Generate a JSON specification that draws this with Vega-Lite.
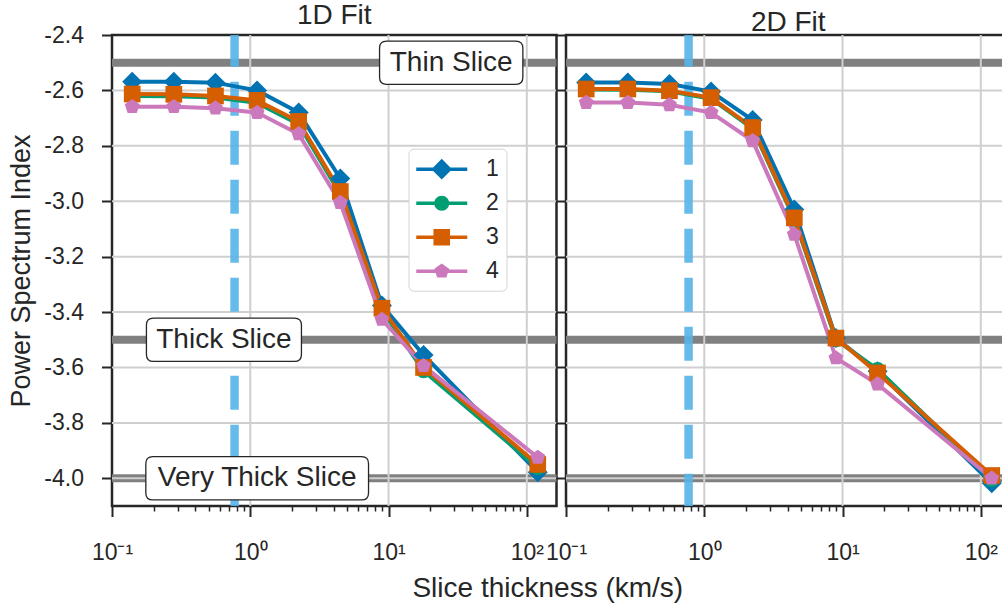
{
  "$schema": "https://vega.github.io/schema/vega-lite/v6.json",
  "padding": {"left": 6, "top": 0, "right": 0, "bottom": 0},
  "bounds": "flush",
  "spacing": 9,
  "config": {
    "font": "Liberation Sans",
    "view": {"stroke": "#262626", "strokeWidth": 2.5},
    "axis": {"grid": false, "domain": false, "labelFont": "Liberation Sans", "titleFont": "Liberation Sans"},
    "title": {"fontSize": 28, "fontWeight": "normal", "color": "#262626", "font": "Liberation Sans", "anchor": "middle", "offset": -6}
  },
  "datasets": {
    "pts": [
      {"fit": "1D Fit", "s": "1", "x": 0.14, "y": -2.569},
      {"fit": "1D Fit", "s": "1", "x": 0.28, "y": -2.569},
      {"fit": "1D Fit", "s": "1", "x": 0.56, "y": -2.572},
      {"fit": "1D Fit", "s": "1", "x": 1.12, "y": -2.600},
      {"fit": "1D Fit", "s": "1", "x": 2.24, "y": -2.680},
      {"fit": "1D Fit", "s": "1", "x": 4.48, "y": -2.918},
      {"fit": "1D Fit", "s": "1", "x": 8.96, "y": -3.376},
      {"fit": "1D Fit", "s": "1", "x": 17.92, "y": -3.555},
      {"fit": "1D Fit", "s": "1", "x": 120, "y": -3.978},
      {"fit": "1D Fit", "s": "2", "x": 0.14, "y": -2.620},
      {"fit": "1D Fit", "s": "2", "x": 0.28, "y": -2.621},
      {"fit": "1D Fit", "s": "2", "x": 0.56, "y": -2.626},
      {"fit": "1D Fit", "s": "2", "x": 1.12, "y": -2.645},
      {"fit": "1D Fit", "s": "2", "x": 2.24, "y": -2.722},
      {"fit": "1D Fit", "s": "2", "x": 4.48, "y": -2.975},
      {"fit": "1D Fit", "s": "2", "x": 8.96, "y": -3.392},
      {"fit": "1D Fit", "s": "2", "x": 17.92, "y": -3.612},
      {"fit": "1D Fit", "s": "2", "x": 120, "y": -3.962},
      {"fit": "1D Fit", "s": "3", "x": 0.14, "y": -2.613},
      {"fit": "1D Fit", "s": "3", "x": 0.28, "y": -2.614},
      {"fit": "1D Fit", "s": "3", "x": 0.56, "y": -2.620},
      {"fit": "1D Fit", "s": "3", "x": 1.12, "y": -2.636},
      {"fit": "1D Fit", "s": "3", "x": 2.24, "y": -2.712},
      {"fit": "1D Fit", "s": "3", "x": 4.48, "y": -2.965},
      {"fit": "1D Fit", "s": "3", "x": 8.96, "y": -3.386},
      {"fit": "1D Fit", "s": "3", "x": 17.92, "y": -3.600},
      {"fit": "1D Fit", "s": "3", "x": 120, "y": -3.950},
      {"fit": "1D Fit", "s": "4", "x": 0.14, "y": -2.659},
      {"fit": "1D Fit", "s": "4", "x": 0.28, "y": -2.659},
      {"fit": "1D Fit", "s": "4", "x": 0.56, "y": -2.664},
      {"fit": "1D Fit", "s": "4", "x": 1.12, "y": -2.680},
      {"fit": "1D Fit", "s": "4", "x": 2.24, "y": -2.757},
      {"fit": "1D Fit", "s": "4", "x": 4.48, "y": -3.005},
      {"fit": "1D Fit", "s": "4", "x": 8.96, "y": -3.427},
      {"fit": "1D Fit", "s": "4", "x": 17.92, "y": -3.594},
      {"fit": "1D Fit", "s": "4", "x": 120, "y": -3.925},
      {"fit": "2D Fit", "s": "1", "x": 0.14, "y": -2.571},
      {"fit": "2D Fit", "s": "1", "x": 0.28, "y": -2.571},
      {"fit": "2D Fit", "s": "1", "x": 0.56, "y": -2.577},
      {"fit": "2D Fit", "s": "1", "x": 1.12, "y": -2.604},
      {"fit": "2D Fit", "s": "1", "x": 2.24, "y": -2.707},
      {"fit": "2D Fit", "s": "1", "x": 4.48, "y": -3.030},
      {"fit": "2D Fit", "s": "1", "x": 8.96, "y": -3.494},
      {"fit": "2D Fit", "s": "1", "x": 17.92, "y": -3.614},
      {"fit": "2D Fit", "s": "1", "x": 120, "y": -4.018},
      {"fit": "2D Fit", "s": "2", "x": 0.14, "y": -2.597},
      {"fit": "2D Fit", "s": "2", "x": 0.28, "y": -2.598},
      {"fit": "2D Fit", "s": "2", "x": 0.56, "y": -2.603},
      {"fit": "2D Fit", "s": "2", "x": 1.12, "y": -2.630},
      {"fit": "2D Fit", "s": "2", "x": 2.24, "y": -2.738},
      {"fit": "2D Fit", "s": "2", "x": 4.48, "y": -3.065},
      {"fit": "2D Fit", "s": "2", "x": 8.96, "y": -3.500},
      {"fit": "2D Fit", "s": "2", "x": 17.92, "y": -3.607},
      {"fit": "2D Fit", "s": "2", "x": 120, "y": -4.005},
      {"fit": "2D Fit", "s": "3", "x": 0.14, "y": -2.595},
      {"fit": "2D Fit", "s": "3", "x": 0.28, "y": -2.595},
      {"fit": "2D Fit", "s": "3", "x": 0.56, "y": -2.601},
      {"fit": "2D Fit", "s": "3", "x": 1.12, "y": -2.626},
      {"fit": "2D Fit", "s": "3", "x": 2.24, "y": -2.734},
      {"fit": "2D Fit", "s": "3", "x": 4.48, "y": -3.060},
      {"fit": "2D Fit", "s": "3", "x": 8.96, "y": -3.494},
      {"fit": "2D Fit", "s": "3", "x": 17.92, "y": -3.620},
      {"fit": "2D Fit", "s": "3", "x": 120, "y": -3.990},
      {"fit": "2D Fit", "s": "4", "x": 0.14, "y": -2.644},
      {"fit": "2D Fit", "s": "4", "x": 0.28, "y": -2.644},
      {"fit": "2D Fit", "s": "4", "x": 0.56, "y": -2.652},
      {"fit": "2D Fit", "s": "4", "x": 1.12, "y": -2.680},
      {"fit": "2D Fit", "s": "4", "x": 2.24, "y": -2.782},
      {"fit": "2D Fit", "s": "4", "x": 4.48, "y": -3.120},
      {"fit": "2D Fit", "s": "4", "x": 8.96, "y": -3.566},
      {"fit": "2D Fit", "s": "4", "x": 17.92, "y": -3.660},
      {"fit": "2D Fit", "s": "4", "x": 120, "y": -4.000}
    ],
    "bands": [{"y": -2.5}, {"y": -3.5}, {"y": -4.0}],
    "gy": [{"y": -2.6}, {"y": -2.8}, {"y": -3.0}, {"y": -3.2}, {"y": -3.4}, {"y": -3.6}, {"y": -3.8}, {"y": -4.0}],
    "gx": [{"x": 1}, {"x": 10}, {"x": 100}],
    "vline": [{"x": 0.77}],
    "notes": [
      {"label": "Thin Slice", "x": 28.4, "y": -2.5},
      {"label": "Thick Slice", "x": 0.645, "y": -3.5},
      {"label": "Very Thick Slice", "x": 1.122, "y": -4.0}
    ]
  },
  "hconcat": [
    {
      "title": "1D Fit",
      "width": 444.5,
      "height": 471,
      "resolve": {"scale": {"shape": "independent", "color": "independent"}},
      "layer": [
        {
          "data": {"name": "bands"},
          "mark": {"type": "rule", "color": "#808080", "strokeWidth": 8},
          "encoding": {"y": {"field": "y", "type": "quantitative", "scale": {"domain": [-4.1, -2.4], "nice": false, "zero": false}}}
        },
        {
          "data": {"name": "gy"},
          "mark": {"type": "rule", "color": "#cfcfcf", "strokeWidth": 2},
          "encoding": {"y": {"field": "y", "type": "quantitative"}}
        },
        {
          "data": {"name": "gx"},
          "mark": {"type": "rule", "color": "#cfcfcf", "strokeWidth": 2},
          "encoding": {"x": {"field": "x", "type": "quantitative", "scale": {"type": "log", "domain": [0.1, 164], "nice": false}}}
        },
        {
          "data": {"name": "vline"},
          "mark": {"type": "rule", "color": "#56B4E9", "opacity": 0.9, "strokeWidth": 8.5, "strokeDash": [34, 15], "strokeDashOffset": 2.3},
          "encoding": {"x": {"field": "x", "type": "quantitative", "scale": {"type": "log"}}}
        },
        {
          "data": {"name": "pts"},
          "transform": [{"filter": "datum.fit == '1D Fit'"}],
          "mark": {"type": "line", "strokeWidth": 4},
          "encoding": {
            "x": {"field": "x", "type": "quantitative", "scale": {"type": "log"},
              "axis": {
                "values": [0.1, 0.2, 0.3, 0.4, 0.5, 0.6, 0.7, 0.8, 0.9, 1, 2, 3, 4, 5, 6, 7, 8, 9, 10, 20, 30, 40, 50, 60, 70, 80, 90, 100],
                "labelExpr": "datum.value == 0.1 ? '10⁻¹' : datum.value == 1 ? '10⁰' : datum.value == 10 ? '10¹' : datum.value == 100 ? '10²' : ''",
                "tickSize": {"condition": {"test": "indexof([0.1, 1, 10, 100], datum.value) >= 0", "value": 10.5}, "value": 5},
                "tickWidth": {"condition": {"test": "indexof([0.1, 1, 10, 100], datum.value) >= 0", "value": 2}, "value": 1.5},
                "tickColor": "#262626",
                "labelFontSize": 23, "labelColor": "#262626", "labelPadding": 25,
                "labelFlush": false, "labelOverlap": false, "labelBound": false,
                "title": "Slice thickness (km/s)", "titleFontSize": 28, "titleFontWeight": "normal", "titleColor": "#262626",
                "titleX": 435.3, "titlePadding": 10
              }},
            "y": {"field": "y", "type": "quantitative",
              "axis": {
                "values": [-2.4, -2.6, -2.8, -3.0, -3.2, -3.4, -3.6, -3.8, -4.0],
                "labelExpr": "'-' + format(-datum.value, '.1f')",
                "tickSize": 10.5, "tickWidth": 2, "tickColor": "#262626",
                "labelFontSize": 23, "labelColor": "#262626", "labelPadding": 18,
                "labelFlush": false, "labelOverlap": false, "labelBound": false,
                "title": "Power Spectrum Index", "titleFontSize": 27, "titleFontWeight": "normal", "titleColor": "#262626", "titlePadding": 8
              }},
            "color": {"field": "s", "type": "nominal", "scale": {"domain": ["1", "2", "3", "4"], "range": ["#0173B2", "#029E73", "#D55E00", "#CC78BC"]}, "legend": null}
          }
        },
        {
          "data": {"name": "pts"},
          "transform": [{"filter": "datum.fit == '1D Fit'"}],
          "mark": {"type": "point", "filled": true, "opacity": 1, "size": 400},
          "encoding": {
            "x": {"field": "x", "type": "quantitative", "scale": {"type": "log"}},
            "y": {"field": "y", "type": "quantitative"},
            "color": {"field": "s", "type": "nominal", "scale": {"domain": ["1", "2", "3", "4"], "range": ["#0173B2", "#029E73", "#D55E00", "#CC78BC"]}, "legend": null},
            "shape": {"field": "s", "type": "nominal", "legend": null, "scale": {"domain": ["1", "2", "3", "4"], "range": [
              "M0,-1L1,0L0,1L-1,0Z",
              "M0.75,0A0.75,0.75 0 1,1 -0.75,0A0.75,0.75 0 1,1 0.75,0Z",
              "M-0.835,-0.835L0.835,-0.835L0.835,0.835L-0.835,0.835Z",
              "M0,-0.78L0.742,-0.241L0.458,0.631L-0.458,0.631L-0.742,-0.241Z"
            ]}}
          }
        },
        {
          "data": {"name": "notes"},
          "mark": {"type": "point", "filled": true, "fill": "white", "stroke": "#262626", "strokeWidth": 1.3, "opacity": 1, "size": 49729},
          "encoding": {
            "x": {"field": "x", "type": "quantitative", "scale": {"type": "log"}},
            "y": {"field": "y", "type": "quantitative"},
            "shape": {"field": "label", "type": "nominal", "legend": null, "scale": {"domain": ["Thin Slice", "Thick Slice", "Very Thick Slice"], "range": [
              "M-0.5798,-0.1942L0.5798,-0.1942Q0.6426,-0.1942 0.6426,-0.1314L0.6426,0.1314Q0.6426,0.1942 0.5798,0.1942L-0.5798,0.1942Q-0.6426,0.1942 -0.6426,0.1314L-0.6426,-0.1314Q-0.6426,-0.1942 -0.5798,-0.1942Z",
              "M-0.6323,-0.1942L0.6323,-0.1942Q0.6951,-0.1942 0.6951,-0.1314L0.6951,0.1314Q0.6951,0.1942 0.6323,0.1942L-0.6323,0.1942Q-0.6951,0.1942 -0.6951,0.1314L-0.6951,-0.1314Q-0.6951,-0.1942 -0.6323,-0.1942Z",
              "M-0.9359,-0.1942L0.9359,-0.1942Q0.9987,-0.1942 0.9987,-0.1314L0.9987,0.1314Q0.9987,0.1942 0.9359,0.1942L-0.9359,0.1942Q-0.9987,0.1942 -0.9987,0.1314L-0.9987,-0.1314Q-0.9987,-0.1942 -0.9359,-0.1942Z"
            ]}}
          }
        },
        {
          "data": {"name": "notes"},
          "mark": {"type": "text", "fontSize": 28, "color": "#262626", "align": "center", "baseline": "middle", "font": "Liberation Sans"},
          "encoding": {
            "x": {"field": "x", "type": "quantitative", "scale": {"type": "log"}},
            "y": {"field": "y", "type": "quantitative"},
            "text": {"field": "label"}
          }
        },
        {
          "data": {"name": "pts"},
          "transform": [{"filter": "datum.fit == '1D Fit'"}],
          "mark": {"type": "point", "filled": true, "opacity": 0, "size": 650},
          "encoding": {
            "x": {"field": "x", "type": "quantitative", "scale": {"type": "log"}},
            "y": {"field": "y", "type": "quantitative"},
            "color": {"field": "s", "type": "nominal", "scale": {"domain": ["1", "2", "3", "4"], "range": ["#0173B2", "#029E73", "#D55E00", "#CC78BC"]},
              "legend": {"orient": "none", "legendX": 296.5, "legendY": 113.7, "title": null, "symbolSize": 650, "symbolStrokeWidth": 0, "symbolOpacity": 1, "labelFontSize": 23, "labelColor": "#262626", "labelFont": "Liberation Sans", "labelOffset": 44, "rowPadding": 9, "padding": 7.5, "fillColor": "white", "strokeColor": "#d4d4d4", "cornerRadius": 5}},
            "shape": {"field": "s", "type": "nominal", "scale": {"domain": ["1", "2", "3", "4"], "range": [
              "M-1,-0.137L3,-0.137L3,0.137L-1,0.137ZM1,-0.81L1.81,0L1,0.81L0.19,0Z",
              "M-1,-0.137L3,-0.137L3,0.137L-1,0.137ZM1.588,0A0.588,0.588 0 1,1 0.412,0A0.588,0.588 0 1,1 1.588,0Z",
              "M-1,-0.137L3,-0.137L3,0.137L-1,0.137ZM0.35,-0.65L1.65,-0.65L1.65,0.65L0.35,0.65Z",
              "M-1,-0.137L3,-0.137L3,0.137L-1,0.137ZM1,-0.612L1.582,-0.189L1.36,0.495L0.64,0.495L0.418,-0.189Z"
            ]},
              "legend": {"orient": "none", "legendX": 296.5, "legendY": 113.7, "title": null, "symbolSize": 650, "symbolStrokeWidth": 0, "symbolOpacity": 1, "labelFontSize": 23, "labelColor": "#262626", "labelFont": "Liberation Sans", "labelOffset": 44, "rowPadding": 9, "padding": 7.5, "fillColor": "white", "strokeColor": "#d4d4d4", "cornerRadius": 5}}
          }
        }
      ]
    },
    {
      "title": "2D Fit",
      "width": 444.5,
      "height": 471,
      "resolve": {"scale": {"shape": "independent", "color": "independent"}},
      "layer": [
        {
          "data": {"name": "bands"},
          "mark": {"type": "rule", "color": "#808080", "strokeWidth": 8},
          "encoding": {"y": {"field": "y", "type": "quantitative", "scale": {"domain": [-4.1, -2.4], "nice": false, "zero": false}}}
        },
        {
          "data": {"name": "gy"},
          "mark": {"type": "rule", "color": "#cfcfcf", "strokeWidth": 2},
          "encoding": {"y": {"field": "y", "type": "quantitative"}}
        },
        {
          "data": {"name": "gx"},
          "mark": {"type": "rule", "color": "#cfcfcf", "strokeWidth": 2},
          "encoding": {"x": {"field": "x", "type": "quantitative", "scale": {"type": "log", "domain": [0.1, 164], "nice": false}}}
        },
        {
          "data": {"name": "vline"},
          "mark": {"type": "rule", "color": "#56B4E9", "opacity": 0.9, "strokeWidth": 8.5, "strokeDash": [34, 15], "strokeDashOffset": 2.3},
          "encoding": {"x": {"field": "x", "type": "quantitative", "scale": {"type": "log"}}}
        },
        {
          "data": {"name": "pts"},
          "transform": [{"filter": "datum.fit == '2D Fit'"}],
          "mark": {"type": "line", "strokeWidth": 4},
          "encoding": {
            "x": {"field": "x", "type": "quantitative", "scale": {"type": "log"},
              "axis": {
                "values": [0.1, 0.2, 0.3, 0.4, 0.5, 0.6, 0.7, 0.8, 0.9, 1, 2, 3, 4, 5, 6, 7, 8, 9, 10, 20, 30, 40, 50, 60, 70, 80, 90, 100],
                "labelExpr": "datum.value == 0.1 ? '10⁻¹' : datum.value == 1 ? '10⁰' : datum.value == 10 ? '10¹' : datum.value == 100 ? '10²' : ''",
                "tickSize": {"condition": {"test": "indexof([0.1, 1, 10, 100], datum.value) >= 0", "value": 10.5}, "value": 5},
                "tickWidth": {"condition": {"test": "indexof([0.1, 1, 10, 100], datum.value) >= 0", "value": 2}, "value": 1.5},
                "tickColor": "#262626",
                "labelFontSize": 23, "labelColor": "#262626", "labelPadding": 25,
                "labelFlush": false, "labelOverlap": false, "labelBound": false,
                "title": null
              }},
            "y": {"field": "y", "type": "quantitative",
              "axis": {
                "values": [-2.4, -2.6, -2.8, -3.0, -3.2, -3.4, -3.6, -3.8, -4.0],
                "labels": false,
                "tickSize": 10.5, "tickWidth": 2, "tickColor": "#262626",
                "title": null
              }},
            "color": {"field": "s", "type": "nominal", "scale": {"domain": ["1", "2", "3", "4"], "range": ["#0173B2", "#029E73", "#D55E00", "#CC78BC"]}, "legend": null}
          }
        },
        {
          "data": {"name": "pts"},
          "transform": [{"filter": "datum.fit == '2D Fit'"}],
          "mark": {"type": "point", "filled": true, "opacity": 1, "size": 400},
          "encoding": {
            "x": {"field": "x", "type": "quantitative", "scale": {"type": "log"}},
            "y": {"field": "y", "type": "quantitative"},
            "color": {"field": "s", "type": "nominal", "scale": {"domain": ["1", "2", "3", "4"], "range": ["#0173B2", "#029E73", "#D55E00", "#CC78BC"]}, "legend": null},
            "shape": {"field": "s", "type": "nominal", "legend": null, "scale": {"domain": ["1", "2", "3", "4"], "range": [
              "M0,-1L1,0L0,1L-1,0Z",
              "M0.75,0A0.75,0.75 0 1,1 -0.75,0A0.75,0.75 0 1,1 0.75,0Z",
              "M-0.835,-0.835L0.835,-0.835L0.835,0.835L-0.835,0.835Z",
              "M0,-0.78L0.742,-0.241L0.458,0.631L-0.458,0.631L-0.742,-0.241Z"
            ]}}
          }
        }
      ]
    }
  ]
}
